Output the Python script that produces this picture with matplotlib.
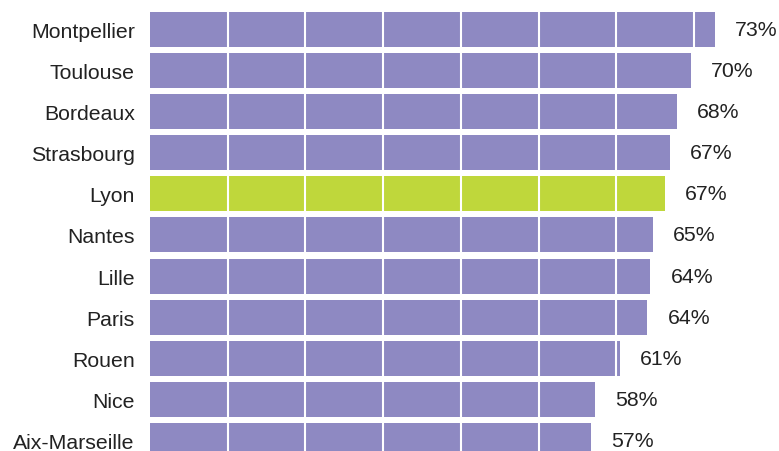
import matplotlib
matplotlib.use("Agg")
import matplotlib.pyplot as plt
import numpy as np

cities = ["Montpellier", "Toulouse", "Bordeaux", "Strasbourg", "Lyon",
          "Nantes", "Lille", "Paris", "Rouen", "Nice", "Aix-Marseille"]
values = [72.7, 69.6, 67.8, 66.9, 66.3, 64.7, 64.4, 64.0, 60.5, 57.3, 56.8]
labels = ["73%", "70%", "68%", "67%", "67%", "65%", "64%", "64%", "61%", "58%", "57%"]
highlight = "Lyon"

purple = "#8e89c2"
green = "#bfd73b"
text_col = "#222222"

plt.rcParams["font.family"] = ["Liberation Sans", "DejaVu Sans"]

fig = plt.figure(figsize=(7.79, 4.52), dpi=100)
ax = fig.add_axes([150 / 779, 0, 1 - 150 / 779, 1])

y = np.arange(len(cities))
colors = [green if c == highlight else purple for c in cities]
ax.barh(y, values, height=0.85, color=colors, zorder=1)

# white grid lines drawn over the bars
for gx in range(10, 80, 10):
    ax.axvline(gx, color="white", lw=1.5, zorder=2)

for yi, v, lab in zip(y, values, labels):
    ax.annotate(lab, (v, yi), xytext=(14.5, 0), textcoords="offset points",
                va="center", ha="left", fontsize=15.3, color=text_col)

ax.set_xlim(0, 629 / 7.77)
ax.set_ylim(10.25, -0.73)
ax.set_yticks(y)
ax.set_yticklabels(cities, fontsize=15.3, color=text_col)
ax.tick_params(axis="y", length=0, pad=11)
ax.set_xticks([])
for s in ax.spines.values():
    s.set_visible(False)

fig.savefig("out.png", dpi=100)
